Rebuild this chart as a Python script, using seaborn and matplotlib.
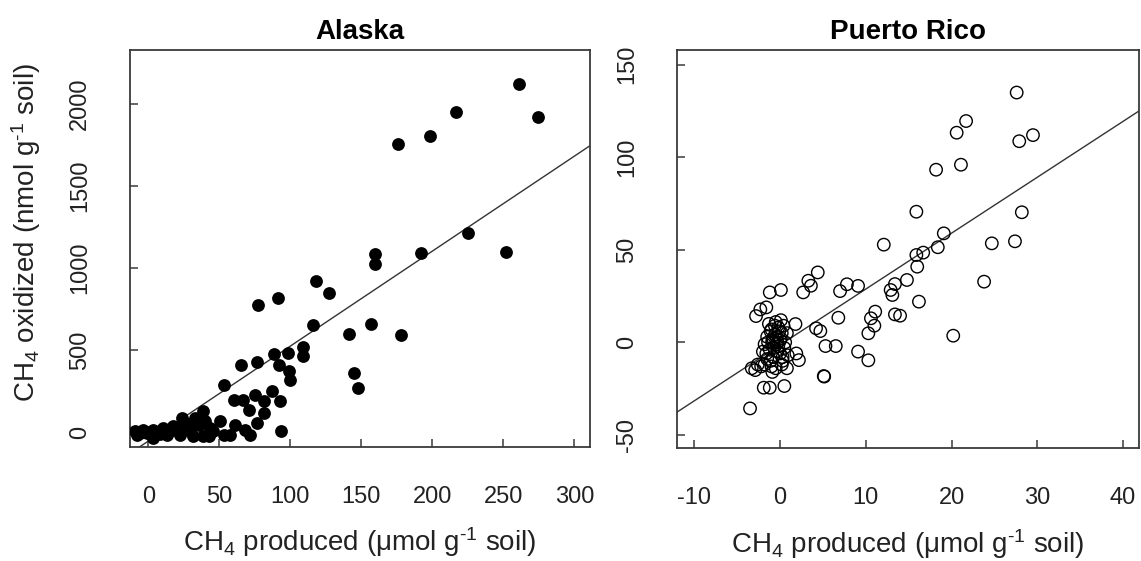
import numpy as np
import pandas as pd
import matplotlib
matplotlib.use("Agg")
import matplotlib.pyplot as plt
import seaborn as sns

# Alaska soils: CH4 produced (umol/g) vs CH4 oxidized (nmol/g)
alaska_produced = [
    261, 274.6, 217, 198, 175.5, 225, 252, 191.8, 159.3, 159.3,
    118.4, 127.3, 91, 77.2, 115.8, 141.2, 157, 177.9, 144.5, 148,
    108.7, 108.7, 98.1, 88.5, 91.8, 98.8, 100, 76.2, 65.4, 53,
    87, 93, 75.3, 81.2, 60, 67, 71, 81.2, 76.5, 93.4,
    61.2, 68.2, 71.8, 38.8, 33, 23.5, 40, 50.6, 43.5, 53,
    57.6, 38.8, 29.4, 24.7, 17.6, 10.6, 3.5, -3.5, -9.4, 3.5,
    12.9, 22.4, 31.8, -8.2, -1.2, 42.4, 6.5, 15.0, 20.0, 27.0,
    35.5, 45.5, -5.5, 0.5, 8.5,
]
alaska_oxidized = [
    2122, 1923, 1949, 1803, 1756, 1213, 1101, 1091, 1089, 1024,
    922, 851, 819, 774, 654, 597, 658, 595, 361, 272,
    522, 465, 485, 475, 410, 374, 319, 428, 414, 292,
    252, 191, 231, 191, 201, 201, 140, 119, 58, 12,
    48, 18, -13, 130, 90, 90, 70, 70, 28, -13,
    -13, -23, 8, 38, 38, 28, 18, 18, 8, -33,
    -13, -13, -23, -13, -3, -23, 5, 10, 20, 55,
    45, 10, 0, 5, -10,
]

# Puerto Rico soils
pr_produced = [
    27.6, 27.9, 29.5, 21.7, 20.6, 21.1, 18.2, 28.2, 15.9, 19.1,
    18.4, 24.7, 27.4, 23.8, 20.2, 12.1, 15.9, 16.7, 16.0, 16.2,
    14.8, 13.4, 12.9, 13.1, 13.4, 14.0, 11.1, 10.6, 11.0, 10.3,
    9.1, 10.3, 6.8, 4.4, 3.3, 3.6, 2.7, 7.0, 7.8, 9.1,
    4.2, 4.7, 5.3, 6.5, 5.1, 5.15, 1.8, 1.9, 2.2, 0.8,
    0.5, -1.2, -1.9, -3.5, 0.1, -1.2, -2.8, -2.3, -1.6, -3.3,
    -2.9,
    -2.2, -1.8, -1.0, -0.5, 0.2, -1.5, -0.8, 0.3, -2.0, -1.2,
    -0.3, 0.5, -1.8, -0.9, 0.0, 0.6, -1.5, -0.6, 0.2, -1.0,
    -0.2, 0.4, -1.3, -0.5, 0.1, -0.8, -0.2, -1.6, 0.8, 0.9,
    -0.3, -2.6, -0.9, 0.1, -1.1,
    -0.7, -0.4, 0.0, -1.4, -0.1, -0.6, 0.3, -1.1, -0.4, -0.9,
]
pr_oxidized = [
    135, 108.7, 112, 119.6, 113.3, 96, 93.3, 70.3, 70.6, 58.9,
    51.4, 53.5, 54.6, 32.8, 3.6, 52.8, 47.2, 48.5, 40.9, 22,
    33.7, 31.5, 28.3, 25.6, 15.1, 14.4, 16.6, 13, 9, 4.9,
    -5, -9.7, 13.3, 37.8, 33.3, 30.6, 27, 27.7, 31.4, 30.5,
    7.6, 6.1, -2, -2, -18.2, -18.5, 9.9, -6, -9.6, -14,
    -23.6, -24.5, -24.5, -35.7, 28.3, 27, 14.2, 17.8, 18.9, -14,
    -15,
    -13, -12, -13, -14, -12, -9, -8, -8, -5, -4,
    -5, -3, -1, 0, 1, 0, 3, 4, 5, 7,
    8, 9, 10, 11, 12, 2, -2, -6, 5, -7,
    0, -12, -16, 2, 6,
    -3, 3, -6, 0, 6, 9, -10, -10, -1, 1,
]

# Least-squares lines (intercept, slope)
alaska_fit = (-52.0, 5.78)
pr_fit = (-1.4, 3.02)

titles = ["Alaska", "Puerto Rico"]
alaska_xticks = [0, 50, 100, 150, 200, 250, 300]
alaska_yticks = [0, 500, 1000, 1500, 2000]
pr_xticks = [-10, 0, 10, 20, 30, 40]
pr_yticks = [-50, 0, 50, 100, 150]

xlabel = "CH$_4$ produced ($\\mu$mol g$^{\\text{-1}}$ soil)"
ylabel = "CH$_4$ oxidized (nmol g$^{\\text{-1}}$ soil)"

sns.set_theme(style="white")
plt.rcParams["font.family"] = ["Liberation Sans", "DejaVu Sans"]
plt.rcParams["mathtext.fontset"] = "custom"
plt.rcParams["mathtext.rm"] = "Liberation Sans"
plt.rcParams["mathtext.it"] = "Liberation Sans:italic"
plt.rcParams["mathtext.default"] = "regular"
plt.rcParams["axes.unicode_minus"] = False

ink = "#222222"
frame = "#3a3a3a"

fig = plt.figure(figsize=(11.41, 5.61), dpi=100)
ax1 = fig.add_axes([0.1139, 0.2032, 0.4032, 0.7077])
ax2 = fig.add_axes([0.5931, 0.2014, 0.4054, 0.7095])

df_ak = pd.DataFrame({"produced": alaska_produced, "oxidized": alaska_oxidized})
df_pr = pd.DataFrame({"produced": pr_produced, "oxidized": pr_oxidized})

sns.scatterplot(data=df_ak, x="produced", y="oxidized", ax=ax1,
                color="black", s=85, linewidth=0, marker="o", zorder=3)
sns.scatterplot(data=df_pr, x="produced", y="oxidized", ax=ax2,
                facecolors="none", edgecolor="black", s=80, linewidth=1.0,
                marker="o", zorder=3)

for ax, fit in ((ax1, alaska_fit), (ax2, pr_fit)):
    b, m = fit
    ax.axline((0, b), slope=m, color="#333333", linewidth=1.0, zorder=2)

ax1.set_xlim(-12.9, 311)
ax1.set_ylim(-88, 2328)
ax2.set_xlim(-12.05, 41.9)
ax2.set_ylim(-57.1, 158)

ax1.set_xticks(alaska_xticks)
ax1.set_yticks(alaska_yticks)
ax2.set_xticks(pr_xticks)
ax2.set_yticks(pr_yticks)

for ax, title in ((ax1, titles[0]), (ax2, titles[1])):
    ax.set_title(title, fontsize=20, fontweight="bold", color="black", pad=8)
    ax.tick_params(axis="both", direction="in", length=6, width=1.1,
                   color=frame, labelsize=17, labelcolor=ink, pad=28,
                   bottom=True, left=True)
    ax.tick_params(axis="y", labelrotation=90)
    for lab in ax.get_yticklabels():
        lab.set_va("center")
    for sp in ax.spines.values():
        sp.set_color(frame)
        sp.set_linewidth(1.3)
    ax.set_xlabel(xlabel, fontsize=20, color=ink)
    ax.xaxis.set_label_coords(0.5, -0.198)
    ax.set_ylabel("")

ax1.set_ylabel(ylabel, fontsize=20, color=ink)
ax1.yaxis.set_label_coords(-0.19, 0.54)

fig.savefig("out.png", dpi=100, facecolor="white")
